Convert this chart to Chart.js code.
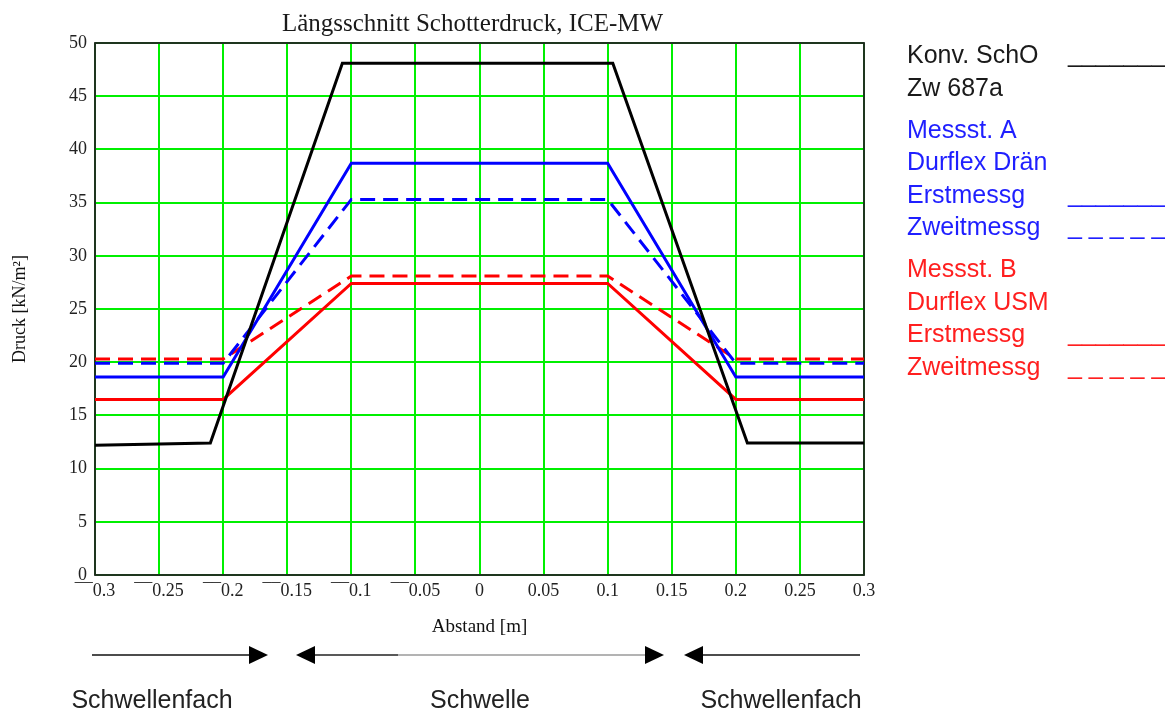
<!DOCTYPE html>
<html lang="de">
<head>
<meta charset="utf-8">
<title>Längsschnitt Schotterdruck, ICE-MW</title>
<script src="https://cdn.jsdelivr.net/npm/chart.js@4.4.1/dist/chart.umd.min.js"></script>
<style>
  html, body { margin: 0; padding: 0; background: #ffffff; }
  #wrap { width: 1165px; height: 711px; position: relative; }
  canvas { display: block; }
</style>
</head>
<body>
<div id="wrap"><canvas id="chart" width="1165" height="711"></canvas></div>
<script>
// Abstand [m] and Druck [kN/m²] for each measurement curve
const konvX  = [-0.3, -0.21, -0.107, 0.104, 0.209, 0.3];
const konvY  = [12.2, 12.4, 48.1, 48.1, 12.4, 12.4];

const messX  = [-0.3, -0.2, -0.1, 0.1, 0.2, 0.3];
const messA1 = [18.6, 18.6, 38.7, 38.7, 18.6, 18.6];   // Messst. A, Erstmessg
const messA2 = [19.9, 19.9, 35.3, 35.3, 19.9, 19.9];   // Messst. A, Zweitmessg
const messB1 = [16.5, 16.5, 27.4, 27.4, 16.5, 16.5];   // Messst. B, Erstmessg
const messB2 = [20.3, 20.3, 28.1, 28.1, 20.3, 20.3];   // Messst. B, Zweitmessg

const xTicks = { min: -0.3, max: 0.3, step: 0.05 };
const yTicks = { min: 0, max: 50, step: 5 };

const titleText = 'Längsschnitt Schotterdruck, ICE-MW';
const xTitle = 'Abstand [m]';
const yTitle = 'Druck [kN/m²]';

const legendLines = [
  { text: 'Konv. SchO',   color: '#1a1a1a', sample: 'solid' },
  { text: 'Zw 687a',      color: '#1a1a1a' },
  { gap: true },
  { text: 'Messst. A',    color: '#1f1fff' },
  { text: 'Durflex Drän', color: '#1f1fff' },
  { text: 'Erstmessg',    color: '#1f1fff', sample: 'solid' },
  { text: 'Zweitmessg',   color: '#1f1fff', sample: 'dash' },
  { gap: true },
  { text: 'Messst. B',    color: '#ff1f1f' },
  { text: 'Durflex USM',  color: '#ff1f1f' },
  { text: 'Erstmessg',    color: '#ff1f1f', sample: 'solid' },
  { text: 'Zweitmessg',   color: '#ff1f1f', sample: 'dash' }
];

const zones = ['Schwellenfach', 'Schwelle', 'Schwellenfach'];

const SERIF = "'Liberation Serif', 'Times New Roman', serif";
const SANS  = "'Liberation Sans', Arial, sans-serif";
const GRID  = 'rgb(0, 240, 0)';

function pts(xs, ys) { return xs.map((x, i) => ({ x: x, y: ys[i] })); }

// plot frame drawn over the grid, under the curves
const framePlugin = {
  id: 'frame',
  beforeDatasetsDraw(chart) {
    const { ctx, chartArea: a } = chart;
    ctx.save();
    ctx.strokeStyle = '#222';
    ctx.lineWidth = 1.8;
    ctx.strokeRect(a.left, a.top, a.right - a.left, a.bottom - a.top);
    ctx.restore();
  }
};

// title, legend block and the Schwelle / Schwellenfach arrows
const notesPlugin = {
  id: 'notes',
  afterDraw(chart) {
    const { ctx, chartArea: a } = chart;
    ctx.save();

    // title
    ctx.fillStyle = '#1a1a1a';
    ctx.font = '25px ' + SERIF;
    ctx.textAlign = 'center';
    ctx.textBaseline = 'alphabetic';
    ctx.fillText(titleText, (a.left + a.right) / 2 - 7, 31);

    // legend block
    ctx.textAlign = 'left';
    ctx.font = '25px ' + SANS;
    let y = 63;
    legendLines.forEach(l => {
      if (l.gap) { y += 9.5; return; }
      ctx.fillStyle = l.color;
      ctx.fillText(l.text, 907, y);
      if (l.sample === 'solid') ctx.fillText('_______', 1068, y - 1);
      if (l.sample === 'dash') ctx.fillText('_ _ _ _ _', 1068, y - 1);
      y += 32.5;
    });

    // arrows
    const ay = 655;
    const line = (x1, x2, color) => {
      ctx.strokeStyle = color;
      ctx.lineWidth = 1.7;
      ctx.beginPath();
      ctx.moveTo(x1, ay);
      ctx.lineTo(x2, ay);
      ctx.stroke();
    };
    const head = (tip, dir) => {
      ctx.fillStyle = '#000';
      ctx.beginPath();
      ctx.moveTo(tip, ay);
      ctx.lineTo(tip - dir * 19, ay - 9);
      ctx.lineTo(tip - dir * 19, ay + 9);
      ctx.closePath();
      ctx.fill();
    };
    line(92, 252, '#111');
    head(268, 1);
    line(312, 398, '#222');
    line(398, 650, '#9a9a9a');
    head(296, -1);
    head(664, 1);
    line(700, 860, '#111');
    head(684, -1);

    // zone names
    ctx.fillStyle = '#222';
    ctx.font = '25px ' + SANS;
    ctx.textAlign = 'center';
    ctx.fillText(zones[0], 152, 708);
    ctx.fillText(zones[1], 480, 708);
    ctx.fillText(zones[2], 781, 708);

    ctx.restore();
  }
};

const dashed = [15, 8];

new Chart(document.getElementById('chart'), {
  type: 'line',
  data: {
    datasets: [
      { label: 'Konv. SchO Zw 687a', data: pts(konvX, konvY), borderColor: '#000000', borderWidth: 3 },
      { label: 'Messst. A Erstmessg', data: pts(messX, messA1), borderColor: '#0000ff', borderWidth: 3 },
      { label: 'Messst. A Zweitmessg', data: pts(messX, messA2), borderColor: '#0000ff', borderWidth: 3, borderDash: dashed },
      { label: 'Messst. B Erstmessg', data: pts(messX, messB1), borderColor: '#ff0000', borderWidth: 3 },
      { label: 'Messst. B Zweitmessg', data: pts(messX, messB2), borderColor: '#ff0000', borderWidth: 3, borderDash: dashed }
    ]
  },
  options: {
    responsive: false,
    animation: false,
    events: [],
    layout: { padding: { top: 43, right: 301, bottom: 0, left: 0 } },
    elements: {
      point: { radius: 0 },
      line: { tension: 0, fill: false, borderCapStyle: 'butt', borderJoinStyle: 'miter' }
    },
    plugins: {
      legend: { display: false },
      title: { display: false },
      tooltip: { enabled: false }
    },
    scales: {
      x: {
        type: 'linear',
        min: xTicks.min,
        max: xTicks.max,
        afterFit(scale) { scale.height = 136; },
        grid: { color: () => GRID, lineWidth: 2, drawTicks: false },
        border: { display: false },
        ticks: {
          stepSize: xTicks.step,
          padding: 5,
          maxRotation: 0,
          autoSkip: false,
          color: '#222',
          font: { family: SERIF, size: 18 },
          callback(v) {
            const r = Math.round(v * 100) / 100;
            return r < 0 ? '\u00AF\u00AF' + String(-r) : String(r);
          }
        },
        title: {
          display: true,
          text: xTitle,
          color: '#111',
          font: { family: SERIF, size: 19 },
          padding: { top: 0, bottom: 73 }
        }
      },
      y: {
        type: 'linear',
        min: yTicks.min,
        max: yTicks.max,
        afterFit(scale) { scale.width = 95; },
        grid: { color: () => GRID, lineWidth: 2, drawTicks: false },
        border: { display: false },
        ticks: {
          stepSize: yTicks.step,
          padding: 8,
          color: '#222',
          font: { family: SERIF, size: 18 }
        },
        title: {
          display: true,
          text: yTitle,
          color: '#111',
          font: { family: SERIF, size: 18 },
          padding: { top: 9, bottom: 0 }
        }
      }
    }
  },
  plugins: [framePlugin, notesPlugin]
});
</script>
</body>
</html>
